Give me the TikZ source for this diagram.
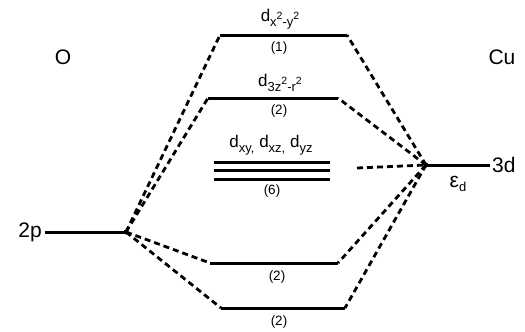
\documentclass[tikz,border=0pt]{standalone}
\usepackage{fontspec}
\setmainfont{Liberation Sans}
\newcommand{\mysub}[1]{\raisebox{-4.5pt}{\fontsize{13}{14}\selectfont #1}}
\newcommand{\mysupr}[1]{\raisebox{6.5pt}{\fontsize{10.5}{11}\selectfont #1}}
\begin{document}
\begin{tikzpicture}[x=1pt,y=-1pt,
  level/.style={line width=3pt},
  conn/.style={line width=2.8pt, dash pattern=on 6pt off 4pt},
  big/.style={font=\fontsize{21}{23}\selectfont, inner sep=0pt},
  small/.style={font=\fontsize{13.5}{15}\selectfont, inner sep=0pt},
  orb/.style={font=\fontsize{17}{19}\selectfont, inner sep=0pt}]
\useasboundingbox (0,0) rectangle (525,332);
% centres
\coordinate (O) at (126,232);
\coordinate (Cu) at (426,165);
% level ends
\coordinate (aL) at (220,35);  \coordinate (aR) at (347,35);
\coordinate (bL) at (208,98);  \coordinate (bR) at (338,98);
\coordinate (cL) at (214,162); \coordinate (cR) at (330,162);
\coordinate (dL) at (214,170); \coordinate (dR) at (330,170);
\coordinate (eL) at (214,179); \coordinate (eR) at (330,179);
\coordinate (fL) at (210,263); \coordinate (fR) at (338,263);
\coordinate (gL) at (221,308); \coordinate (gR) at (345,308);
\coordinate (pL) at (45,232);
\coordinate (dR3) at (490,165);
\coordinate (tripR) at (357,168);
% levels
\draw[level] (aL) -- (aR);
\draw[level] (bL) -- (bR);
\draw[level] (cL) -- (cR);
\draw[level] (dL) -- (dR);
\draw[level] (eL) -- (eR);
\draw[level] (fL) -- (fR);
\draw[level] (gL) -- (gR);
\draw[level] (pL) -- (O);
\draw[level] (Cu) -- (dR3);
% connectors
\draw[conn] (O) -- (aL);
\draw[conn] (O) -- (bL);
\draw[conn] (O) -- (fL);
\draw[conn] (O) -- (gL);
\draw[conn] (Cu) -- (aR);
\draw[conn] (Cu) -- (bR);
\draw[conn] (Cu) -- (fR);
\draw[conn] (Cu) -- (gR);
\draw[conn] (tripR) -- (Cu);
\fill (O) circle (2.5pt);
\fill (Cu) circle (2.5pt);
% labels
\node[big] (lO) at (63,57) {O};
\node[big] (lCu) at (502,57) {Cu};
\node[big, anchor=east] (l2p) at (42,232) {2p};
\node[big, anchor=west] (l3d) at (492,165) {3d};
\node[big] (leps) at (458,184) {ε\mysub{d}};
\node[orb] (la) at (280,19) {d\mysub{x\mysupr{2}-y\mysupr{2}}};
\node[orb] (lb) at (280,83) {d\mysub{3z\mysupr{2}-r\mysupr{2}}};
\node[orb] (lc) at (271,145) {d\mysub{xy,} d\mysub{xz,} d\mysub{yz}};
\node[small] (na) at (279,48) {(1)};
\node[small] (nb) at (279,111) {(2)};
\node[small] (nc) at (272,191) {(6)};
\node[small] (nf) at (277,277) {(2)};
\node[small] (ng) at (279,322) {(2)};
\end{tikzpicture}
\end{document}
